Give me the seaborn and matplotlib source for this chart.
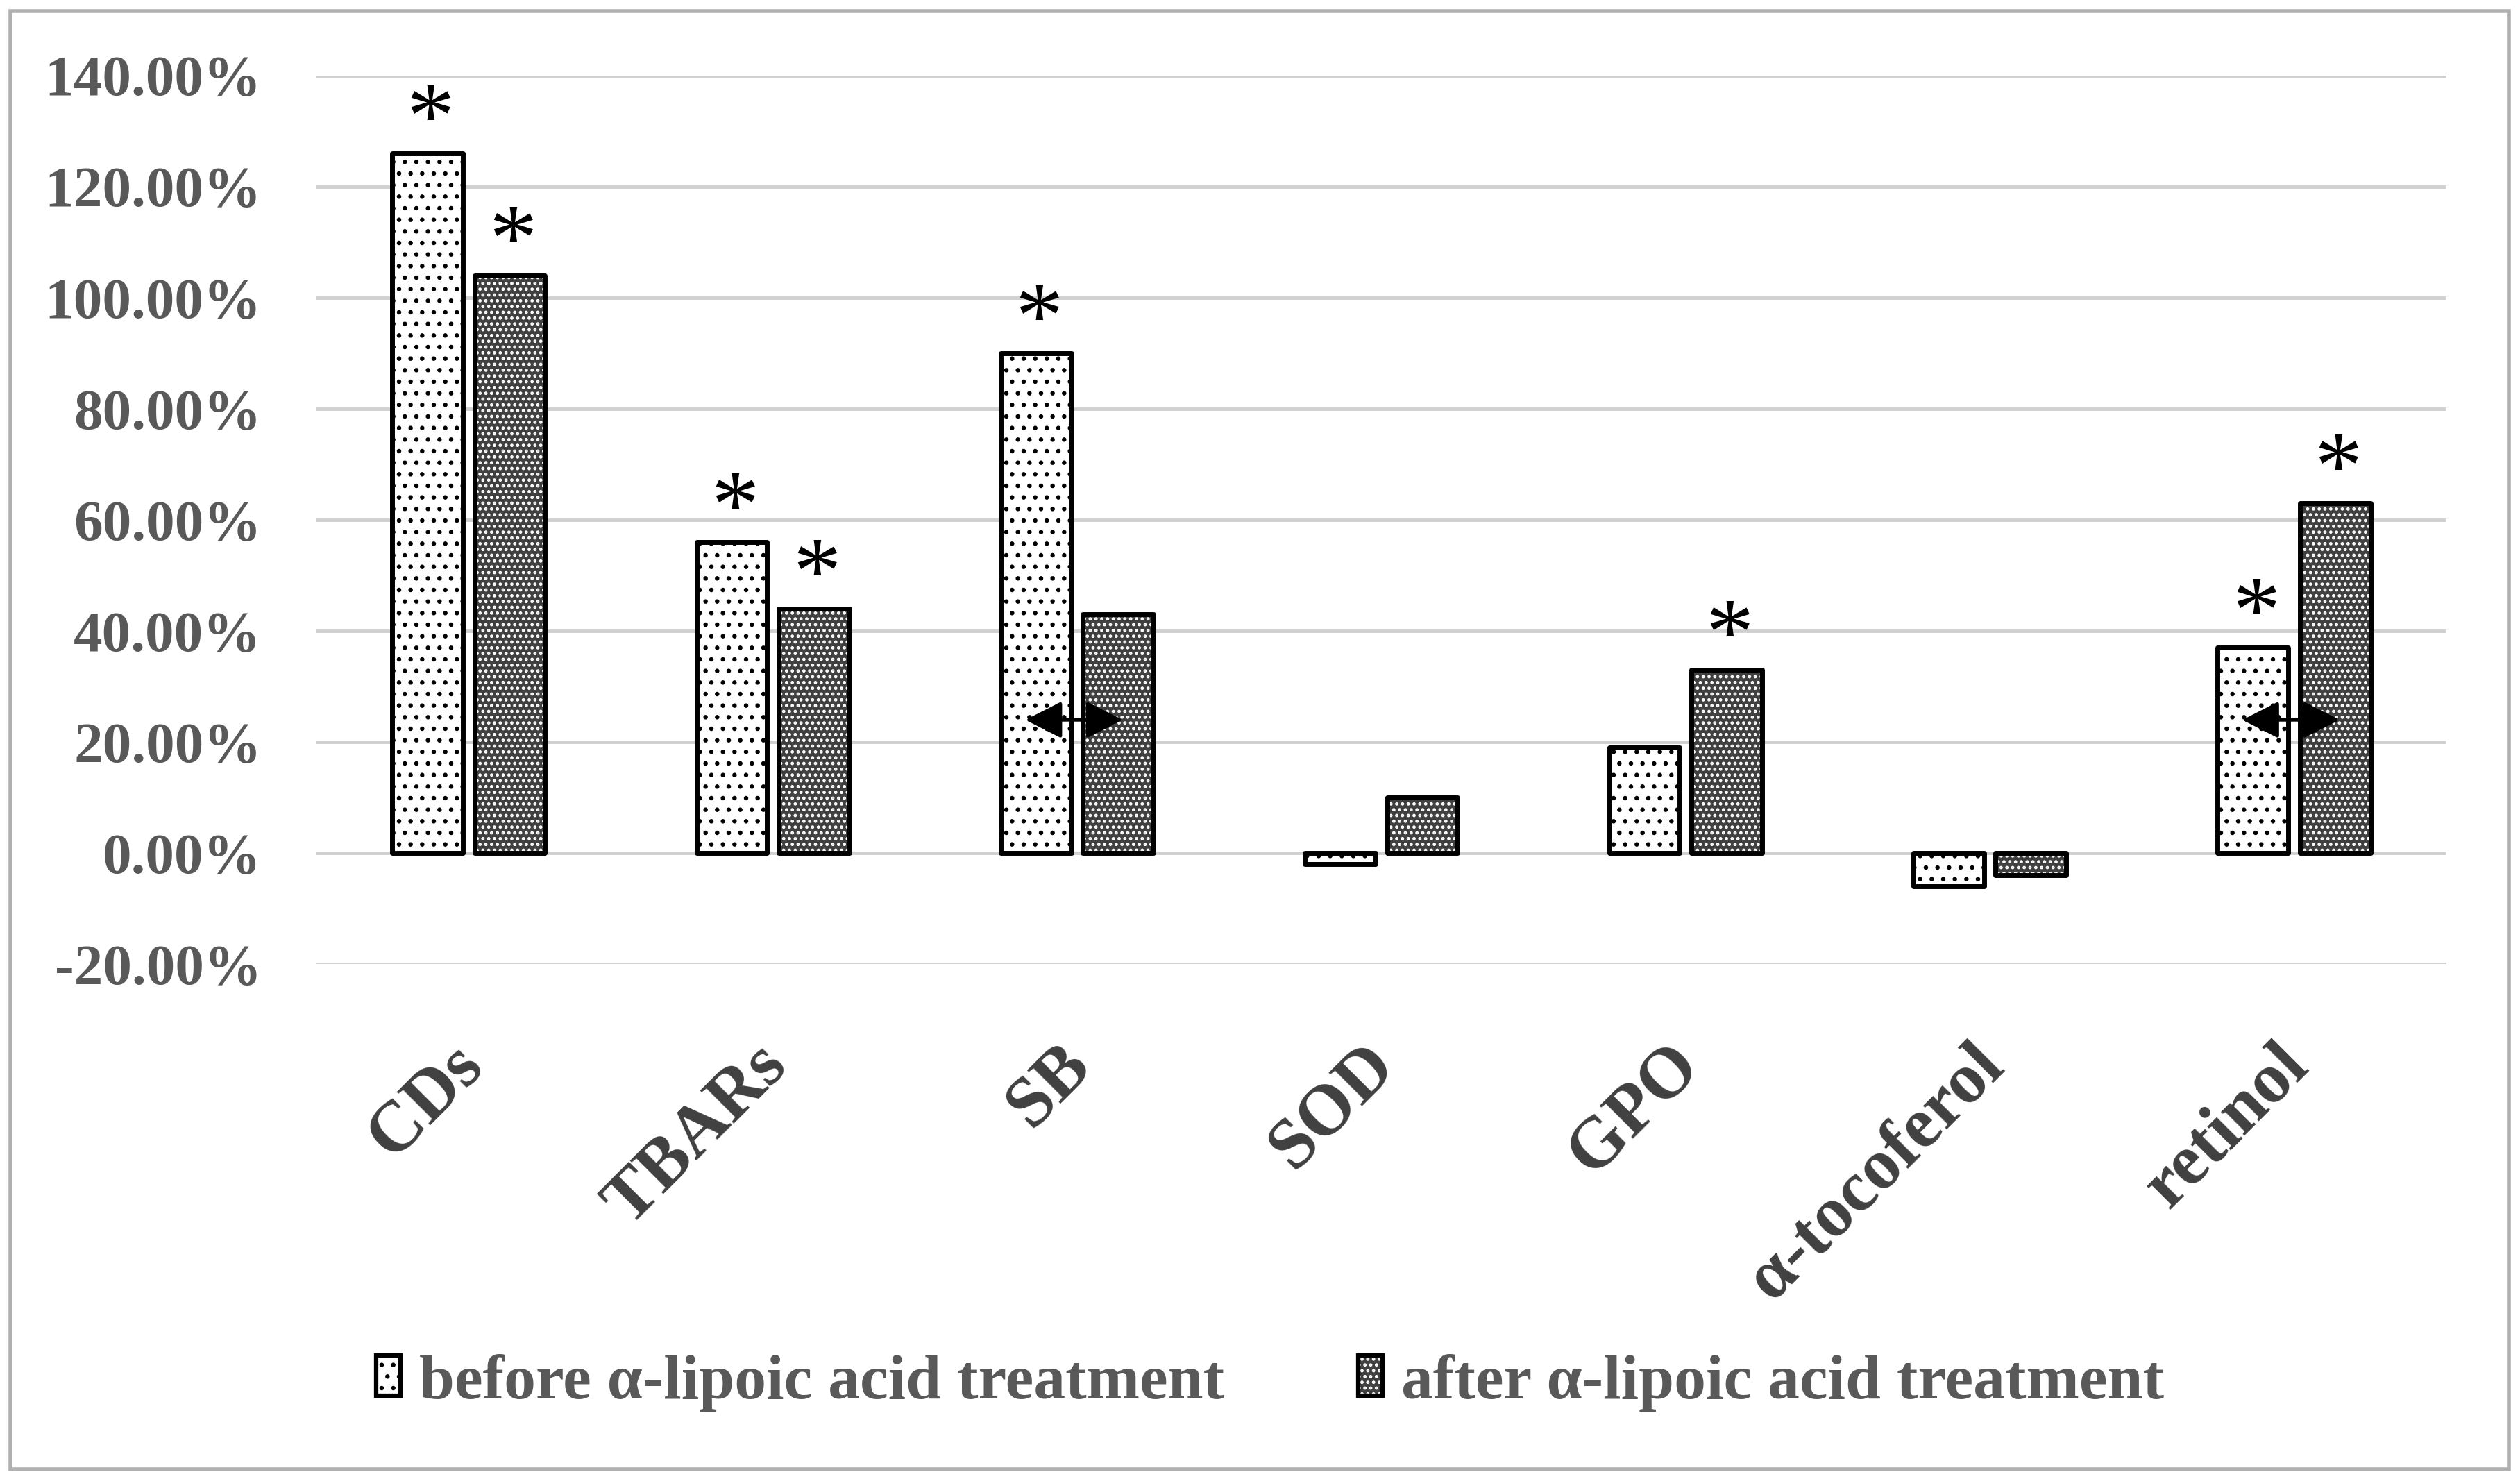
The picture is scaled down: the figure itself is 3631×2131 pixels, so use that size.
import numpy as np
import pandas as pd
import matplotlib
matplotlib.use('Agg')
import matplotlib.pyplot as plt
import seaborn as sns
from matplotlib.patches import Rectangle, Patch
from matplotlib.legend_handler import HandlerTuple
from matplotlib.transforms import ScaledTranslation

# data (percent change)
categories = ['CDs', 'TBARs', 'SB', 'SOD', 'GPO', 'α-tocoferol', 'retinol']
before = [126, 56, 90, -2, 19, -6, 37]
after = [104, 44, 43, 10, 33, -4, 63]
groups = ['before α-lipoic acid treatment', 'after α-lipoic acid treatment']
# significance marks: 1 = asterisk above the bar
stars_before = [1, 1, 1, 0, 0, 0, 1]
stars_after = [1, 1, 0, 0, 1, 0, 1]
# double arrows between the two bars
arrow_cats = ['SB', 'retinol']
arrow_level = [24, 24]
yticks = [-20, 0, 20, 40, 60, 80, 100, 120, 140]

df = pd.DataFrame({
    'cat': categories * 2,
    'value': before + after,
    'group': [groups[0]] * len(categories) + [groups[1]] * len(categories),
})

sns.set_style('white')
plt.rcParams['font.family'] = ['Liberation Serif', 'DejaVu Serif']
plt.rcParams['font.weight'] = 'bold'
plt.rcParams['hatch.linewidth'] = 2.2

fig = plt.figure(figsize=(36.31, 21.31), dpi=100)
ax = fig.add_axes([0.1256, 0.348, 0.8451, 0.6009])

sns.barplot(data=df, x='cat', y='value', hue='group', order=categories,
            palette=['white', '#404040'], width=0.54, gap=0.14,
            edgecolor='black', linewidth=5, legend=False, ax=ax, zorder=3)

# patterns: black dots on white, white dots on dark grey
hatches = ['.', '..']
hatch_cols = ['black', 'white']
for i, cont in enumerate(ax.containers):
    for bar in cont:
        x, y = bar.get_xy()
        w, h = bar.get_width(), bar.get_height()
        bar.set_linewidth(0)
        bar.set_edgecolor(hatch_cols[i])
        bar.set_hatch(hatches[i])
        ax.add_patch(Rectangle((x, y), w, h, fill=False, edgecolor='black',
                               lw=5, joinstyle='round', zorder=4))

# asterisks
for i, cont in enumerate(ax.containers):
    marks = stars_before if i == 0 else stars_after
    vals = before if i == 0 else after
    for j, bar in enumerate(cont):
        if marks[j]:
            xc = bar.get_x() + bar.get_width() / 2
            ax.text(xc + 0.01, vals[j] + 1.0, '*', ha='center', va='baseline',
                    fontsize=100, color='black', fontweight='normal', zorder=6)

# double headed arrows
for c, lev in zip(arrow_cats, arrow_level):
    k = categories.index(c)
    ax.annotate('', xy=(k + 0.15, lev), xytext=(k - 0.17, lev),
                arrowprops=dict(arrowstyle='<|-|>,head_length=0.65,head_width=0.33',
                                mutation_scale=50, color='black', lw=3.5,
                                shrinkA=0, shrinkB=0), zorder=7)

ax.set_ylim(-20, 140)
ax.set_xlim(-0.5, len(categories) - 0.5)
ax.set_yticks(yticks)
ax.set_yticklabels([f'{v:.2f}%' for v in yticks], fontsize=60,
                   color='#595959', fontweight='bold')
ax.set_xticks(range(len(categories)))
ax.set_xticklabels([])
# rotated category names, placed below the plot area
lab_tr = ax.get_xaxis_transform() + ScaledTranslation(-0.28, -0.98, fig.dpi_scale_trans)
for k, c in enumerate(categories):
    ax.text(k, 0, c, transform=lab_tr, rotation=45, ha='right', va='top',
            rotation_mode='anchor', fontsize=74, color='#404040', fontweight='bold')
ax.tick_params(axis='y', length=0, pad=57)
ax.tick_params(axis='x', length=0)
ax.set_xlabel('')
ax.set_ylabel('')
ax.yaxis.grid(True, color='#d0d0d0', lw=3.5)
ax.set_axisbelow(True)
sns.despine(ax=ax, left=True, bottom=True)

# legend
h_before = (Patch(facecolor='white', edgecolor='black', hatch='.', lw=0),
            Patch(fill=False, edgecolor='black', lw=4.5))
h_after = (Patch(facecolor='#404040', edgecolor='white', hatch='..', lw=0),
           Patch(fill=False, edgecolor='black', lw=4.5))
fig.legend([h_before, h_after], groups, handler_map={tuple: HandlerTuple(ndivide=1, pad=0)},
           loc='center', bbox_to_anchor=(0.504, 1 - 860 / 920), ncol=2, frameon=False,
           prop={'size': 66, 'weight': 'bold'}, labelcolor='#595959',
           handlelength=0.38, handleheight=0.6, handletextpad=0.3, columnspacing=2.1)

# outer frame
fig.add_artist(Rectangle((15 / 3631, 14 / 2131), (3615 - 15) / 3631, (2115 - 14) / 2131,
                         transform=fig.transFigure, fill=False, edgecolor='#b0b0b0', lw=4))

fig.savefig('out.png', dpi=100)
